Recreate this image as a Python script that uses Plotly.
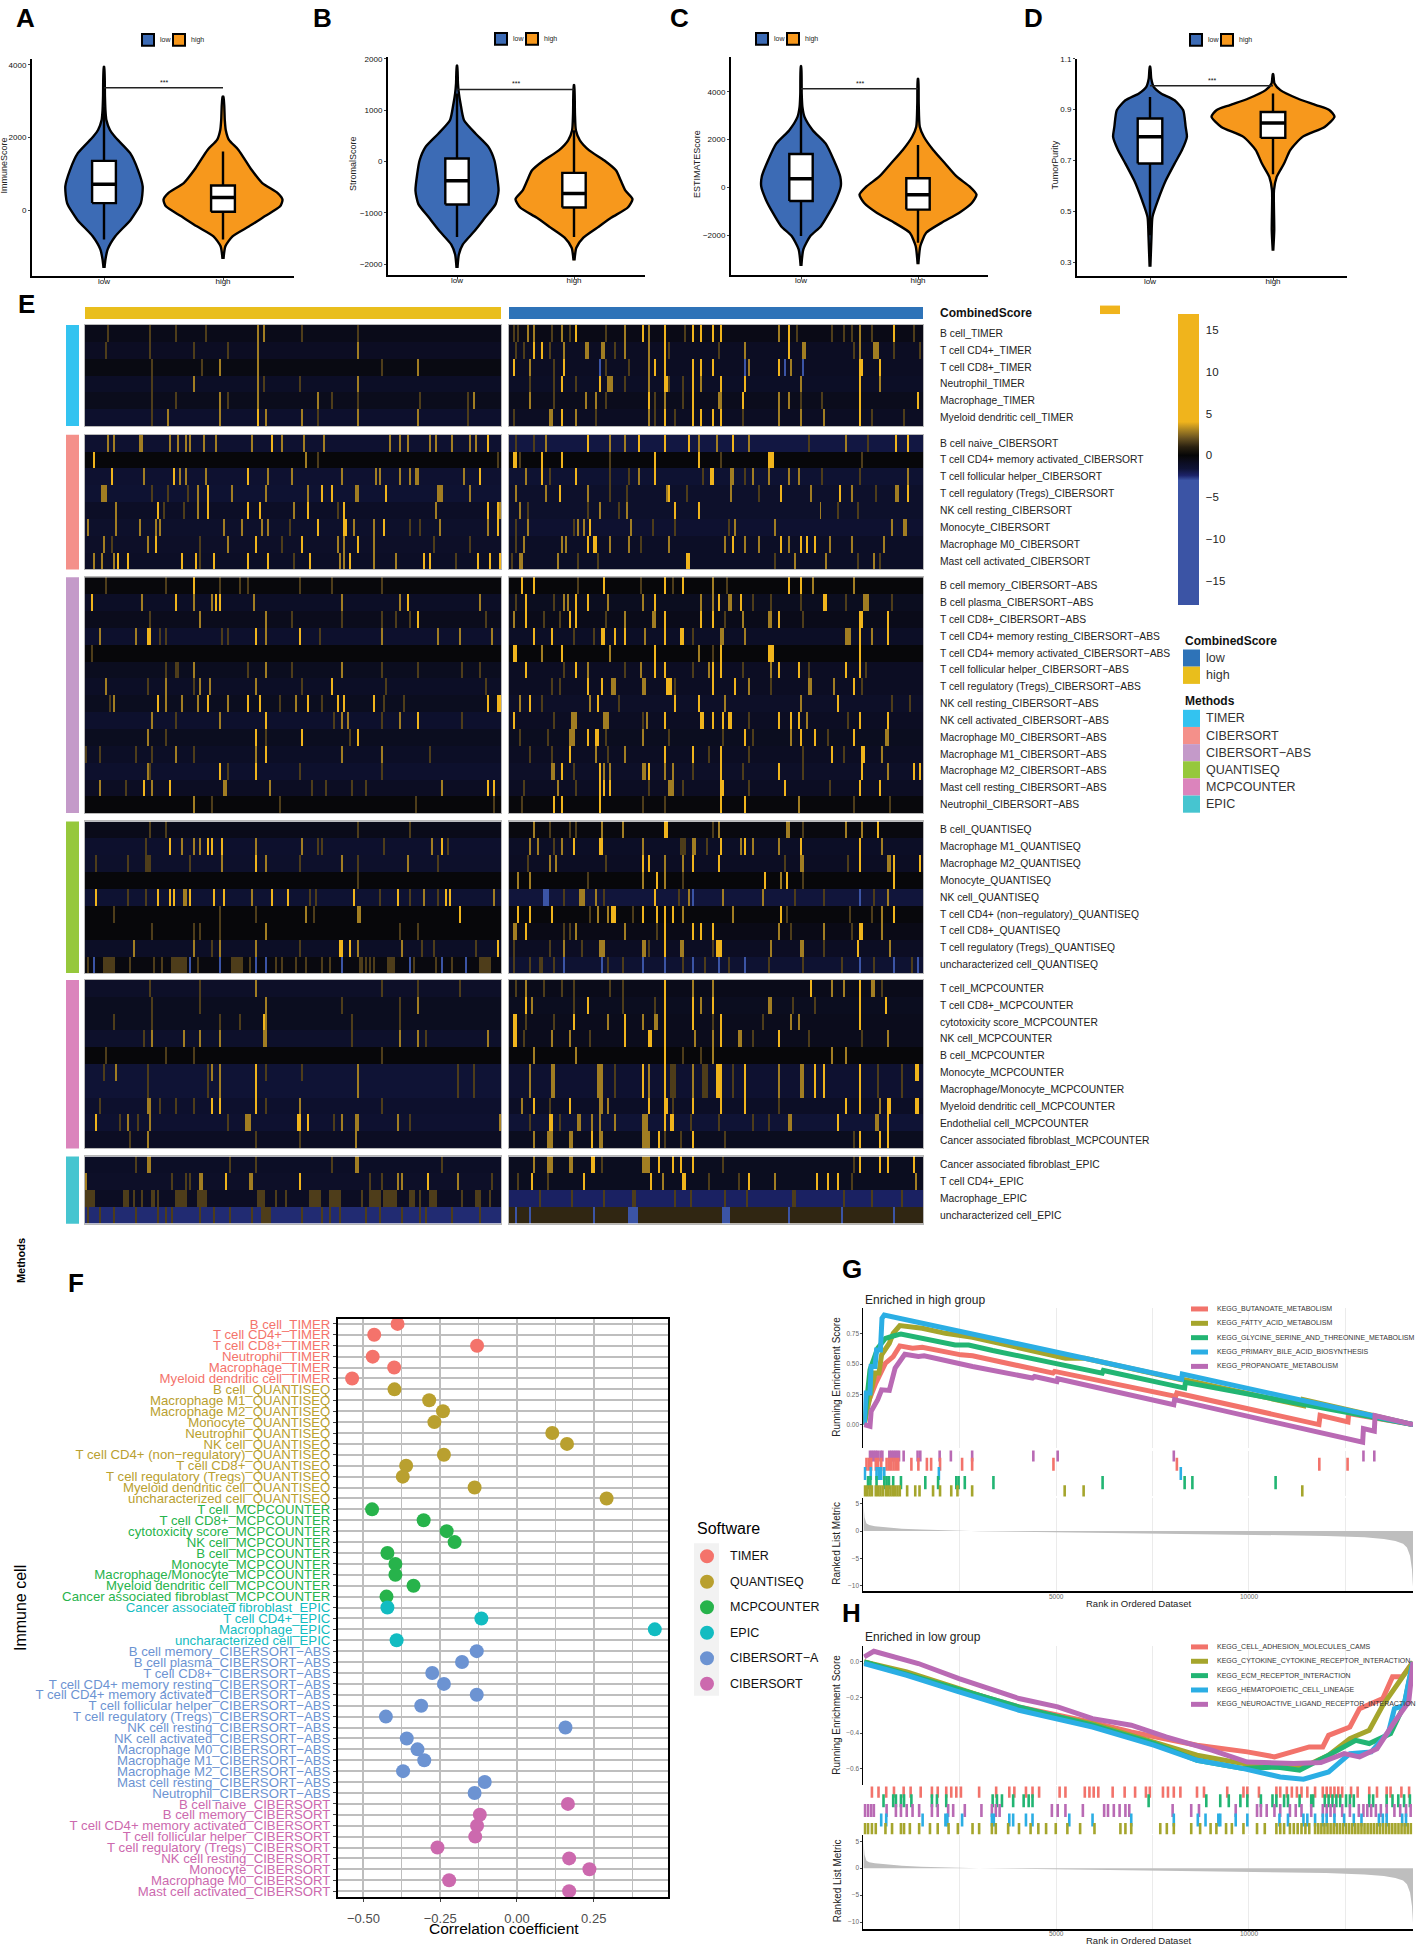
import plotly.graph_objects as go

W, H = 1417, 1945
FONT = "Liberation Sans"

# ---- violins (A-D): y level and half width in category units
A_low_y = [-1580, -1352, -1078, -712, -256, 200, 657, 1114, 1571, 2027, 2210, 2484, 2758, 3123, 3945]
A_low_w = [.004, .012, .03, .095, .225, .31, .325, .285, .22, .09, .05, .02, .012, .008, .002]
A_high_y = [-1333, -986, -712, -438, -164, 110, 292, 475, 749, 1114, 1662, 1936, 2210, 2484, 3123]
A_high_w = [.004, .02, .08, .22, .35, .48, .5, .46, .33, .24, .13, .05, .023, .015, .004]
B_low_y = [-2072, -1810, -1614, -1353, -1092, -830, -569, -242, 20, 281, 542, 804, 1131, 1327, 1523, 1869]
B_low_w = [.004, .016, .05, .15, .24, .33, .355, .34, .32, .27, .16, .06, .03, .016, .008, .002]
B_high_y = [-1928, -1680, -1484, -1288, -1092, -895, -732, -569, -372, -176, 20, 216, 412, 608, 935, 1490]
B_high_w = [.004, .02, .08, .2, .32, .46, .5, .44, .4, .36, .26, .13, .05, .016, .008, .002]
C_low_y = [-3280, -2588, -2034, -1619, -1066, -512, 42, 457, 1149, 1841, 2394, 2948, 3363, 3917, 5065]
C_low_w = [.003, .02, .08, .17, .24, .3, .34, .335, .28, .21, .1, .03, .012, .006, .002]
C_high_y = [-3211, -2450, -1896, -1481, -1066, -650, -304, 42, 457, 1010, 1564, 2118, 2533, 3502, 4540]
C_high_w = [.003, .02, .07, .2, .35, .46, .5, .44, .33, .23, .13, .05, .015, .006, .002]
D_low_y = [.282, .4, .478, .544, .623, .688, .741, .793, .832, .898, .937, .964, .99, 1.023, 1.069]
D_low_w = [.003, .012, .02, .065, .13, .2, .26, .3, .29, .27, .2, .09, .03, .01, .002]
D_high_y = [.345, .426, .583, .636, .688, .741, .793, .832, .872, .898, .918, .944, .977, 1.003, 1.04]
D_high_w = [.002, .01, .008, .03, .09, .14, .24, .42, .5, .46, .35, .2, .06, .012, .002]

# q1, median, q3, lower whisker, upper whisker
A_low_box = [200, 721, 1361, -804, 2850]
A_high_box = [-37, 356, 685, -804, 1616]
B_low_box = [-837, -373, 59, -1470, 1327]
B_high_box = [-895, -621, -222, -1470, 608]
C_low_box = [-567, 360, 1398, -2034, 3778]
C_high_box = [-927, -304, 387, -2311, 1772]
D_low_box = [.688, .793, .865, .406, .95]
D_high_box = [.789, .848, .891, .646, .964]

# ---- heatmap (E): each row = (base, strong columns, medium columns, faint columns[, blue columns])
TIMER_LOW = [
    (-.6, [], [86, 89], [32, 45, 60, 108, 11, 136]),
    (-.9, [], [86, 136], [32, 10, 54, 71]),
    (-.4, [], [67, 86, 166], [33, 58, 148]),
    (-1, [], [136, 54, 86], [89, 33, 107]),
    (-.7, [], [116, 67, 86, 194], [71, 123, 136, 167, 191, 33, 45]),
    (-1.3, [86], [67, 90, 136, 41, 166, 108], [33, 116, 191]),
]
CIBERSORT_LOW = [
    (-1.4, [93, 201], [83, 65, 109, 161, 175, 98, 11, 14, 27, 28, 42, 46, 50, 52, 59, 119, 152, 157, 172, 183, 192, 195], []),
    (-.1, [4], [110], [116, 206]),
    (-1.4, [13, 44, 81, 197], [60, 47, 50, 29, 91, 103, 128, 145, 147, 157, 162, 165, 166, 189], []),
    (-1.5, [61, 118, 123, 150], [8, 9, 10, 56, 136, 135, 176, 177, 178, 192, 73, 111, 90], [33, 41, 51]),
    (-1, [36, 61, 81, 87, 111, 129, 206, 201], [15, 56, 104, 175, 207], [39, 49, 126]),
    (-1.2, [116, 129, 130, 149, 206], [15, 27, 35, 37, 1, 69, 78, 88, 91, 134, 144, 177, 201], [102, 162, 167]),
    (-1.1, [35, 85, 108, 136], [31, 126, 129, 9, 71, 144], [13, 57, 98, 192, 174]),
    (-1, [16, 21, 48, 55, 64, 81, 91, 112, 132, 169, 172, 196, 202, 207], [4, 8, 14, 127, 129, 144, 155], [57, 104, 185]),
]
ABS_LOW = [
    (-.2, [54], [], [10, 40, 67, 77, 81, 107, 123, 148]),
    (-1, [3, 45, 65, 67, 161], [28, 63, 84, 128, 157, 197, 54], []),
    (-.7, [166], [57, 90], [32, 103, 128, 148, 155, 162, 200]),
    (-1.3, [31, 32, 85, 107], [7, 25, 90, 148, 176, 187, 203], [37, 40, 68, 71, 117]),
    (-.1, [], [], [3]),
    (-.8, [], [54, 90, 128], [45, 46, 81, 103, 148, 166, 197, 40, 188]),
    (-1, [123], [10, 85, 57, 62, 40], [31, 54, 108, 200, 150]),
    (-.8, [36, 61, 81, 87, 111, 126, 129, 144, 201, 206, 207], [14, 48, 56, 105, 40, 71], [12, 97, 118, 149, 159]),
    (-1.3, [90, 166], [67, 157, 33, 128, 131], [45, 124, 148, 188]),
    (-.8, [85, 108, 136], [31], [40, 132, 90]),
    (-1, [90], [45, 128, 85, 148], [7, 25, 33, 54, 0, 172]),
    (-1.3, [67, 85], [31], [32, 71, 107, 148]),
    (-.9, [29, 42, 201, 204], [69, 70, 92, 178, 7, 33], [140, 133, 120, 113, 20]),
    (-.1, [], [54], [63, 97, 165, 204]),
]
QUANT_LOW = [
    (-.6, [], [], [40, 32, 136, 162]),
    (-1.3, [42, 61, 63, 68, 178], [173, 48, 54, 57, 85, 108], [30, 116, 118, 149, 181]),
    (-1.2, [85], [90, 68, 128, 161], [30, 31, 32, 52, 5, 21, 107, 136, 176]),
    (-.1, [], [], [136]),
    (-1.5, [5, 36, 42, 44, 52, 64, 69, 93, 101, 134, 156, 180, 182], [49, 50, 204, 169, 83], [21, 30, 112, 115, 176, 147, 162]),
    (-.1, [187], [136, 137, 110], [14, 67, 85, 114]),
    (-.1, [], [90], [33, 57, 54, 67, 166, 157]),
    (-1, [127, 128, 132, 206], [67, 54, 85, 158, 24, 136], [63, 107, 168, 174, 195]),
    (-.3, [], [], [1, 9, 10, 11, 12, 13, 14, 22, 34, 38, 43, 44, 45, 46, 47, 48, 49, 50, 56, 73, 74, 75, 76, 77, 78, 82, 95, 98, 105, 110, 118, 122,
                   137, 138, 140, 142, 144, 151, 152, 153, 154, 164, 175, 183, 197, 198, 199, 200, 201, 202], [4, 52, 67, 85, 90, 128, 162, 178, 190]),
]
MCP_LOW = [
    (-1.1, [], [85], [32, 57, 148, 166, 187]),
    (-.8, [], [90, 166], [57, 33, 157, 128]),
    (-.8, [89], [90], [14, 33, 67, 77, 157, 133]),
    (-1.2, [], [89, 90, 49, 33, 57, 67, 166, 157, 201], [29, 170, 133]),
    (-.1, [], [], [10, 40, 54, 148]),
    (-1.6, [85], [67, 136, 63, 15], [31, 61, 9, 90, 108, 186, 194]),
    (-1.6, [85], [67, 136], [31, 61, 186, 194]),
    (-1.3, [63, 67, 85], [31, 32, 107], [7, 37, 45, 54, 90, 148]),
    (-1.4, [5, 106, 107, 111], [21, 32, 80, 81, 82, 135, 136, 156, 128, 207], [17, 26, 71, 124, 162]),
    (-.9, [], [31, 135], [85, 22, 107]),
]
EPIC_LOW = [
    (-1, [], [31, 32, 135, 136], [72, 123, 25, 178, 85]),
    (-1.1, [107, 171, 70], [0, 82, 83, 57, 58, 156, 158, 186], [50, 52, 43, 203, 142, 148]),
    (-.9, [], [], [0, 1, 2, 3, 4, 19, 20, 21, 24, 28, 33, 34, 36, 45, 46, 47, 48, 49, 50, 56, 57, 58, 59, 60, 86, 87, 88, 89, 95, 100, 112, 113, 114, 115, 116, 117,
                   122, 123, 124, 125, 126, 127, 138, 142, 143, 144, 145, 146, 147, 149, 150, 151, 152, 153, 154, 155, 162, 163, 164, 167, 172, 173, 174, 175, 188, 195, 196, 197, 202]),
    (-2.5, [], [], [1, 7, 14, 25, 36, 40, 43, 57, 64, 72, 83, 88, 89, 90, 91, 92, 108, 118, 122, 127, 140, 147, 158, 167, 170, 183, 197]),
]
TIMER_HIGH = [
    (-.5, [33, 67, 78, 92, 96, 102, 106, 140, 193], [12, 9, 26, 58, 70, 135, 176], [2, 4, 21, 30, 48, 88, 144, 162, 168, 172, 182, 203]),
    (-.9, [78, 12, 16, 140], [38, 39, 46, 47, 147, 148, 183, 184, 185, 58, 118, 176, 27, 70], [3, 7, 20, 53, 80, 105, 193, 173, 206]),
    (-.9, [2, 78, 92, 96, 102, 135, 176, 177, 27, 186, 73], [70, 10, 141, 120], [22, 48, 60], [45, 138, 147, 118]),
    (-1, [78, 79, 26, 45, 106, 118, 176, 92], [49, 50, 51, 146, 70, 96, 186], [22, 58, 80, 87, 10, 33]),
    (-.7, [70, 92, 117, 176, 205], [43, 10, 105, 106, 78, 135, 140, 38], [22, 48, 73, 87, 146, 157]),
    (-.9, [26, 78, 92, 96, 102, 106, 176], [20, 21, 33, 70, 135, 146, 158], [2, 43, 73, 83, 117, 182, 198]),
]
CIBERSORT_HIGH = [
    (-1.8, [39, 65, 78, 90, 112, 194, 200], [18, 50, 95, 104, 58, 120, 169], [3, 12, 150, 180]),
    (-.1, [2, 3, 16, 26, 73, 95, 130, 131, 132], [], [5, 50, 106, 177]),
    (-1.5, [16, 33, 73, 101, 102], [8, 65, 122, 111, 112, 130, 140, 145, 200], [20, 50, 60, 97, 118, 157, 176]),
    (-1.2, [25, 80, 136, 166, 200], [79, 39, 18, 3, 194, 195, 151, 172, 111], [50, 89, 59, 125, 184]),
    (-1.2, [83, 95], [5, 45, 156, 59], [9, 39, 55, 165, 175]),
    (-1.4, [40], [9, 34, 37, 133, 61, 113, 192, 198, 199], [3, 32, 72, 83, 110]),
    (-1, [42, 43, 39, 112, 136, 146, 149, 153], [172, 188, 7, 26, 28, 50, 60, 80, 108, 118, 125, 140, 161], [3, 66]),
    (-1, [89, 90], [5, 6, 24, 143, 159, 183], [1, 34, 44, 133, 175, 186]),
]
ABS_HIGH = [
    (-.1, [6, 12, 47, 78, 87, 140, 146], [152, 102, 173], [34, 66, 82, 109]),
    (-.8, [8, 33, 39, 73, 105, 116, 158, 159], [27, 29, 49, 67, 110, 111, 178, 179, 180, 102, 96], [3, 22, 122, 131, 146, 169, 192]),
    (-.6, [8, 30, 33, 78, 96, 102, 176, 177, 190, 135], [2, 58, 72, 73, 130, 131, 117], [17, 25, 48, 108, 147]),
    (-1, [12, 46, 47, 78, 86, 87, 53, 58, 176, 190, 21], [169, 170, 171, 68, 106, 107, 182, 118], [32, 42, 92]),
    (-.1, [2, 3, 26, 73, 106, 130, 131, 132, 176], [16, 50, 95], [102]),
    (-.9, [8, 33, 73, 78, 102, 135, 145, 169, 176, 106], [66, 131, 100, 39], [27, 58, 92, 117, 150, 179]),
    (-.9, [39, 46, 79, 80, 81, 173, 102, 113], [51, 52, 53, 67, 68, 150, 151, 120, 163], [21, 25, 83, 131, 177]),
    (-1.1, [10, 44, 83, 95, 165], [40, 5, 108, 146], [16, 55, 192, 201]),
    (-.9, [2, 78, 96, 97, 102, 135, 141, 145, 176, 190, 110, 111, 107], [47, 48, 49, 31, 32, 33, 69, 149], [22, 67, 120, 170]),
    (-.8, [39, 43, 44, 146, 153, 173, 118], [30, 31, 32, 67, 141, 189, 190], [5, 19, 48, 80, 107, 122, 160]),
    (-.9, [30, 78, 92, 106, 162, 177, 178], [58, 43, 187], [10, 21, 49, 100, 120, 147, 168]),
    (-1.1, [26, 70, 106, 135, 177, 203, 206, 45], [21, 22, 67, 68, 78, 82, 47, 50, 190], [32, 92, 117, 147]),
    (-.9, [45, 47, 50, 106, 107, 138, 176, 186], [80, 81, 82, 24], [7, 33, 70, 87, 120, 161]),
    (-.2, [22, 26, 45, 106, 118], [145], [6, 67, 78, 173, 191]),
]
QUANT_HIGH = [
    (-.3, [78, 79, 185], [105, 12, 46, 139, 140, 57, 177, 169], [20, 30, 33, 102, 147]),
    (-1, [45, 46, 106, 118, 176, 32, 146], [10, 14, 26, 67, 92, 93, 116, 122, 135, 187], [22, 86, 87, 88, 99]),
    (-.9, [67, 70, 92, 176, 193, 206, 105], [23, 20, 78, 146, 147, 190, 191, 87], [9, 48, 138, 170]),
    (-.1, [74, 128, 139, 193], [10, 4, 67, 136, 78], [39, 87, 147]),
    (-1.7, [73], [43, 35, 36, 37, 90, 190, 127, 107], [27, 47, 85, 143, 158, 183], [17, 18, 19, 176, 92]),
    (-.2, [4, 10, 21, 67, 74, 78, 82, 136, 193, 51, 52, 53], [87, 112, 49, 44, 187], [40, 62, 139, 171, 182]),
    (-.5, [8, 78, 92, 96, 102, 176, 177], [2, 3, 33, 58, 135, 158, 187], [27, 30, 74, 141, 172]),
    (-.9, [78, 104, 105, 106, 175], [45, 46, 47, 27, 67, 68, 86, 87, 146, 147, 131, 191], [2, 20, 36, 70, 102, 158]),
    (-1.5, [], [], [15, 16, 2, 10, 22, 49, 57, 87, 98, 110, 130, 147, 167, 183, 202], [78, 105, 118, 176, 193, 205, 46, 92, 27, 67]),
]
MCP_HIGH = [
    (-.6, [78, 151, 176], [92, 102, 168, 162, 8, 182, 183], [3, 17, 26, 57, 32, 50, 187]),
    (-.8, [78, 92, 102, 39, 176, 8, 189], [130, 131, 96, 11], [32, 57, 73, 142, 153]),
    (-.7, [2, 3, 32, 58, 78, 106, 176, 92], [49, 67, 145, 141, 73, 74], [8, 22, 102, 127]),
    (-.7, [2, 3, 70, 71, 58, 78, 135, 106], [21, 30, 93, 115, 116, 190, 102], [7, 40, 122, 150, 177]),
    (-.1, [78], [12, 33, 102, 162, 169], [87, 96]),
    (-1.4, [67, 78, 104, 105, 106, 118, 153, 158, 176, 204, 205], [44, 45, 46, 10, 21, 22, 70, 92, 135, 146, 147], [53, 81, 82, 83, 97, 98, 99, 112, 185, 197]),
    (-1.4, [67, 78, 104, 105, 106, 118, 153, 158, 176], [44, 45, 46, 10, 21, 22, 70, 92, 135, 146, 147], [53, 81, 82, 83, 97, 98, 99, 112, 185, 197]),
    (-1, [12, 30, 70, 78, 79, 92, 106, 118, 169, 176, 190, 191, 204, 205], [45, 46, 49, 6, 186], [20, 82, 135]),
    (-1.6, [20, 21, 81, 82, 165, 190, 78], [34, 35, 41, 45, 67, 68, 69, 184, 185, 140, 141, 53], [10, 25, 91, 105, 122, 130]),
    (-.8, [41, 75, 92, 176, 186, 190], [19, 20, 21, 30, 31, 67, 68, 69, 70, 12, 45, 46], [78, 86, 173, 108]),
]
EPIC_HIGH = [
    (-.8, [41, 42, 75, 82, 86, 92, 176, 186, 190, 203], [19, 20, 21, 30, 31, 67, 68, 69, 70, 12], [107, 173, 46]),
    (-.8, [11, 37, 71, 87, 88, 120, 154, 160, 165], [77, 133, 204], [4, 19, 100, 115, 172]),
    (-2.3, [], [], [15, 31, 47, 62, 63, 83, 91, 108, 119, 142, 143, 168, 182, 197]),
    (1.1, [], [], [], [3, 10, 42, 60, 61, 62, 63, 64, 107, 108, 109, 110, 140, 167, 193]),
]

METHODS = ["TIMER", "CIBERSORT", "CIBERSORT\u2212ABS", "QUANTISEQ", "MCPCOUNTER", "EPIC"]
METHOD_COLORS = ["#33C3F0", "#F4908A", "#C49AC9", "#96C83C", "#DB84BC", "#46C5D0"]
HEAT_ROWS = [
    ["B cell_TIMER", "T cell CD4+_TIMER", "T cell CD8+_TIMER", "Neutrophil_TIMER", "Macrophage_TIMER", "Myeloid dendritic cell_TIMER"],
    ["B cell naive_CIBERSORT", "T cell CD4+ memory activated_CIBERSORT", "T cell follicular helper_CIBERSORT",
     "T cell regulatory (Tregs)_CIBERSORT", "NK cell resting_CIBERSORT", "Monocyte_CIBERSORT", "Macrophage M0_CIBERSORT",
     "Mast cell activated_CIBERSORT"],
    ["B cell memory_CIBERSORT\u2212ABS", "B cell plasma_CIBERSORT\u2212ABS", "T cell CD8+_CIBERSORT\u2212ABS",
     "T cell CD4+ memory resting_CIBERSORT\u2212ABS", "T cell CD4+ memory activated_CIBERSORT\u2212ABS",
     "T cell follicular helper_CIBERSORT\u2212ABS", "T cell regulatory (Tregs)_CIBERSORT\u2212ABS", "NK cell resting_CIBERSORT\u2212ABS",
     "NK cell activated_CIBERSORT\u2212ABS", "Macrophage M0_CIBERSORT\u2212ABS", "Macrophage M1_CIBERSORT\u2212ABS",
     "Macrophage M2_CIBERSORT\u2212ABS", "Mast cell resting_CIBERSORT\u2212ABS", "Neutrophil_CIBERSORT\u2212ABS"],
    ["B cell_QUANTISEQ", "Macrophage M1_QUANTISEQ", "Macrophage M2_QUANTISEQ", "Monocyte_QUANTISEQ", "NK cell_QUANTISEQ",
     "T cell CD4+ (non\u2212regulatory)_QUANTISEQ", "T cell CD8+_QUANTISEQ", "T cell regulatory (Tregs)_QUANTISEQ",
     "uncharacterized cell_QUANTISEQ"],
    ["T cell_MCPCOUNTER", "T cell CD8+_MCPCOUNTER", "cytotoxicity score_MCPCOUNTER", "NK cell_MCPCOUNTER", "B cell_MCPCOUNTER",
     "Monocyte_MCPCOUNTER", "Macrophage/Monocyte_MCPCOUNTER", "Myeloid dendritic cell_MCPCOUNTER", "Endothelial cell_MCPCOUNTER",
     "Cancer associated fibroblast_MCPCOUNTER"],
    ["Cancer associated fibroblast_EPIC", "T cell CD4+_EPIC", "Macrophage_EPIC", "uncharacterized cell_EPIC"],
]

# ---- dot plot (F)
F_TIMER = ["B cell_TIMER", "T cell CD4+_TIMER", "T cell CD8+_TIMER", "Neutrophil_TIMER", "Macrophage_TIMER", "Myeloid dendritic cell_TIMER"]
F_TIMER_X = [-.389, -.465, -.13, -.47, -.40, -.537]
F_QUANT = ["B cell_QUANTISEQ", "Macrophage M1_QUANTISEQ", "Macrophage M2_QUANTISEQ", "Monocyte_QUANTISEQ", "Neutrophil_QUANTISEQ", "NK cell_QUANTISEQ",
           "T cell CD4+ (non\u2212regulatory)_QUANTISEQ", "T cell CD8+_QUANTISEQ", "T cell regulatory (Tregs)_QUANTISEQ",
           "Myeloid dendritic cell_QUANTISEQ", "uncharacterized cell_QUANTISEQ"]
F_QUANT_X = [-.399, -.286, -.241, -.269, .115, .163, -.238, -.361, -.372, -.138, .292]
F_MCP = ["T cell_MCPCOUNTER", "T cell CD8+_MCPCOUNTER", "cytotoxicity score_MCPCOUNTER", "NK cell_MCPCOUNTER", "B cell_MCPCOUNTER",
         "Monocyte_MCPCOUNTER", "Macrophage/Monocyte_MCPCOUNTER", "Myeloid dendritic cell_MCPCOUNTER", "Cancer associated fibroblast_MCPCOUNTER"]
F_MCP_X = [-.472, -.304, -.229, -.203, -.422, -.396, -.396, -.337, -.425]
F_EPIC = ["Cancer associated fibroblast_EPIC", "T cell CD4+_EPIC", "Macrophage_EPIC", "uncharacterized cell_EPIC"]
F_EPIC_X = [-.422, -.116, .449, -.392]
F_ABS = ["B cell memory_CIBERSORT\u2212ABS", "B cell plasma_CIBERSORT\u2212ABS", "T cell CD8+_CIBERSORT\u2212ABS",
         "T cell CD4+ memory resting_CIBERSORT\u2212ABS", "T cell CD4+ memory activated_CIBERSORT\u2212ABS",
         "T cell follicular helper_CIBERSORT\u2212ABS", "T cell regulatory (Tregs)_CIBERSORT\u2212ABS", "NK cell resting_CIBERSORT\u2212ABS",
         "NK cell activated_CIBERSORT\u2212ABS", "Macrophage M0_CIBERSORT\u2212ABS", "Macrophage M1_CIBERSORT\u2212ABS",
         "Macrophage M2_CIBERSORT\u2212ABS", "Mast cell resting_CIBERSORT\u2212ABS", "Neutrophil_CIBERSORT\u2212ABS"]
F_ABS_X = [-.131, -.179, -.276, -.238, -.131, -.312, -.427, .158, -.359, -.324, -.302, -.371, -.105, -.138]
F_CIB = ["B cell naive_CIBERSORT", "B cell memory_CIBERSORT", "T cell CD4+ memory activated_CIBERSORT", "T cell follicular helper_CIBERSORT",
         "T cell regulatory (Tregs)_CIBERSORT", "NK cell resting_CIBERSORT", "Monocyte_CIBERSORT", "Macrophage M0_CIBERSORT", "Mast cell activated_CIBERSORT"]
F_CIB_X = [.166, -.121, -.13, -.136, -.259, .17, .236, -.221, .17]
SOFTWARE = ["TIMER", "QUANTISEQ", "MCPCOUNTER", "EPIC", "CIBERSORT\u2212A", "CIBERSORT"]
SOFT_COLORS = ["#F4736B", "#B9A02F", "#27B34B", "#12BCC1", "#6C93D2", "#CC69AE"]

# ---- GSEA (G): running enrichment score curves
G_red_x = [20, 120, 321, 572, 773, 944, 1275, 1526, 2530, 2831, 4920, 4960, 8102, 8132, 11817, 11847, 12570, 12590, 14257]
G_red_y = [0, .179, .343, .508, .563, .651, .632, .64, .577, .569, .426, .44, .233, .261, 0, .077, .022, .091, 0]
G_olive_x = [20, 301, 402, 472, 673, 773, 944, 1526, 2128, 2831, 5241, 5743, 8253, 8333, 11415, 11415, 14257]
G_olive_y = [0, .426, .426, .577, .673, .755, .819, .797, .755, .722, .549, .549, .371, .371, .157, .206, 0]
G_green_x = [20, 80, 171, 371, 572, 773, 974, 2379, 2731, 3353, 6195, 6225, 8333, 8353, 8534, 10713, 10763, 14257]
G_green_y = [0, .151, .453, .632, .714, .733, .75, .659, .659, .613, .426, .448, .302, .349, .338, .2, .206, 0]
G_blue_x = [20, 70, 171, 201, 301, 341, 442, 482, 542, 8253, 8273, 13223, 14257]
G_blue_y = [0, .261, .261, .481, .481, .618, .618, .879, .907, .376, .418, .074, 0]
G_purple_x = [20, 171, 201, 371, 472, 673, 823, 1074, 1426, 1576, 2831, 4387, 4438, 5020, 5040, 8052, 8072, 12951, 12971, 13253, 13273, 14257]
G_purple_y = [0, -.014, .11, .206, .288, .283, .467, .582, .563, .569, .481, .385, .398, .357, .379, .165, .206, -.146, -.033, -.055, .074, 0]
G_NAMES = ["KEGG_BUTANOATE_METABOLISM", "KEGG_FATTY_ACID_METABOLISM", "KEGG_GLYCINE_SERINE_AND_THREONINE_METABOLISM",
           "KEGG_PRIMARY_BILE_ACID_BIOSYNTHESIS", "KEGG_PROPANOATE_METABOLISM"]
# gene hits, top rug row first
G_hits_purple = [171, 221, 271, 321, 371, 442, 492, 673, 723, 773, 823, 873, 924, 1044, 1406, 1476, 1978, 2269, 2821, 4408, 5040, 8052, 12972, 13253]
G_hits_red = [80, 141, 201, 321, 382, 462, 602, 663, 723, 783, 843, 904, 1245, 1426, 1647, 1757, 1988, 2560, 2821, 4930, 8132, 11827, 12560]
G_hits_blue = [40, 191, 341, 402, 462, 542, 1958, 8233]
G_hits_green = [120, 181, 341, 542, 602, 663, 773, 974, 1606, 1938, 2410, 2470, 2630, 3373, 6205, 8333, 8534, 10693]
G_hits_olive = [40, 100, 161, 221, 321, 382, 442, 502, 582, 643, 703, 763, 823, 884, 944, 1135, 1345, 1456, 1807, 1988, 2279, 2440, 2821, 5221, 5713, 11385]

# ---- GSEA (H)
H_red_x = [20, 2480, 4036, 5944, 6948, 8655, 9959, 10663, 11064, 11566, 11917, 12068, 12620, 12871, 13474, 13725, 13976, 14257]
H_red_y = [0, -.154, -.253, -.341, -.394, -.469, -.506, -.534, -.51, -.478, -.478, -.413, -.366, -.263, -.206, -.084, -.084, 0]
H_olive_x = [20, 1124, 2480, 4036, 5944, 7550, 8655, 9859, 10813, 11415, 12068, 12620, 13122, 13474, 13875, 14257]
H_olive_y = [0, -.056, -.15, -.2625, -.347, -.45, -.525, -.572, -.594, -.591, -.525, -.431, -.384, -.244, -.113, 0]
H_green_x = [20, 773, 2480, 4036, 5944, 7550, 8655, 9859, 10713, 11315, 12068, 12771, 13122, 13675, 14026, 14257]
H_green_y = [0, -.047, -.159, -.253, -.356, -.459, -.553, -.6, -.591, -.609, -.525, -.441, -.459, -.403, -.244, 0]
H_blue_x = [20, 1124, 2480, 4036, 5944, 7550, 8655, 9859, 10813, 11415, 12068, 12620, 13173, 13624, 13775, 14026, 14126, 14257]
H_blue_y = [-.009, -.075, -.169, -.272, -.366, -.469, -.553, -.6, -.647, -.66, -.619, -.516, -.506, -.394, -.263, -.244, -.131, 0]
H_purple_x = [20, 271, 1426, 2480, 4036, 5040, 5944, 6948, 7851, 9056, 9959, 11165, 11867, 12470, 12871, 13323, 13775, 14026, 14146, 14257]
H_purple_y = [.028, .06, -.009, -.094, -.206, -.253, -.319, -.356, -.422, -.497, -.563, -.572, -.566, -.516, -.534, -.488, -.338, -.263, -.225, 0]
H_NAMES = ["KEGG_CELL_ADHESION_MOLECULES_CAMS", "KEGG_CYTOKINE_CYTOKINE_RECEPTOR_INTERACTION", "KEGG_ECM_RECEPTOR_INTERACTION",
           "KEGG_HEMATOPOIETIC_CELL_LINEAGE", "KEGG_NEUROACTIVE_LIGAND_RECEPTOR_INTERACTION"]
H_hits_red = [221, 392, 592, 793, 1044, 1225, 1486, 1777, 1928, 2149, 2279, 2410, 2530, 3002, 3444, 3785, 3916, 4217, 4387, 4558, 5090, 5241, 5743, 5863, 5974, 6094,
              6466, 6777, 7048, 7329, 7430, 7771, 7901, 8052, 8223, 8654, 8835, 9438, 9859, 9960, 10261, 10713, 10813, 10984, 11114, 11245, 11365, 11516, 11717,
              11917, 12018, 12118, 12219, 12319, 12420, 12650, 12821, 13122, 13323, 13574, 13675, 13956, 14156]
H_hits_green = [522, 773, 843, 974, 1054, 1245, 1777, 1908, 2149, 3353, 3464, 3594, 3885, 4157, 4287, 4387, 7399, 8895, 9257, 9478, 9779, 9960, 10311, 10612, 10713,
                10913, 11014, 11315, 11617, 11667, 11968, 12068, 12168, 12269, 12369, 12520, 12620, 12721, 13122, 13223, 13574, 13725, 13875, 14026, 14176]
H_hits_purple = [40, 120, 201, 271, 602, 843, 974, 1124, 1275, 1446, 1777, 1928, 2199, 2329, 2630, 3062, 3333, 3434, 3534, 4889, 5040, 5241, 5693, 6245, 6345, 6496,
                 6646, 6797, 6897, 8022, 8504, 8705, 9658, 10211, 10311, 10462, 10663, 10813, 11064, 11215, 11365, 11617, 11917, 12018, 12118, 12219, 12420, 12620,
                 12851, 12971, 13072, 13172, 13293, 13423, 13574, 13775, 13925, 14076, 14196]
H_hits_blue = [462, 592, 1536, 2128, 2179, 2560, 3333, 3383, 3785, 3885, 4217, 4387, 5341, 5944, 6948, 8052, 8675, 8875, 9207, 9257, 9658, 9960, 10793, 11014, 11415,
               11516, 11717, 11917, 12018, 12219, 12470, 12721, 12921, 13373, 13474, 13574, 13976, 14076]
H_hits_olive = [40, 120, 221, 321, 572, 743, 974, 1054, 1205, 1446, 1727, 1928, 2209, 2450, 2831, 3002, 3333, 3434, 3755, 4036, 4337, 4538, 4739, 4990, 5291, 5622, 5994,
                6667, 6797, 6948, 7701, 7871, 8052, 8504, 8735, 9006, 9157, 9408, 9558, 9859, 10211, 10412, 10713, 10813, 10913, 11064, 11165, 11265, 11365, 11466, 11566,
                11717, 11800, 11880, 11960, 12040, 12120, 12200, 12280, 12360, 12440, 12520, 12600, 12680, 12760, 12840, 12920, 13000, 13080, 13160, 13240, 13320, 13400,
                13480, 13560, 13640, 13720, 13800, 13880, 13960, 14040, 14120, 14200]

# ranked list metric, read from the grey area
metric_rank = [0, 30, 80, 150, 300, 600, 1000, 1500, 2000, 2500, 3000, 4000, 5000, 6000, 7500, 9000, 10000, 11000, 12000, 13000, 13500, 13800, 14000, 14100, 14180, 14230, 14257]
metric_val = [5, 2.5, 1.4, 1.1, .9, .65, .45, .28, .15, .05, -.02, -.1, -.2, -.27, -.38, -.5, -.6, -.72, -.88, -1.15, -1.45, -1.8, -2.3, -3, -4.5, -7, -10.2]

GSEA_RED, GSEA_OLIVE, GSEA_GREEN, GSEA_BLUE, GSEA_PURPLE = "#F2736B", "#A5A52C", "#22B573", "#2BAEE4", "#B96AB4"
LOW_BLUE, HIGH_ORANGE = "#3C6BB5", "#F7981C"

fig = go.Figure()
axes = {}
shapes = []
notes = []
axis_n = 1


def new_axes(x0, x1, y0, y1, xkw=None, ykw=None):
    # one x/y pair placed by pixel box
    global axis_n
    axis_n += 1
    xa, ya = f"x{axis_n}", f"y{axis_n}"
    base = dict(showgrid=False, zeroline=False, showticklabels=False, ticks="")
    axes[f"xaxis{axis_n}"] = {**base, "domain": [x0 / W, x1 / W], "anchor": ya, **(xkw or {})}
    axes[f"yaxis{axis_n}"] = {**base, "domain": [1 - y1 / H, 1 - y0 / H], "anchor": xa, **(ykw or {})}
    return xa, ya


def text(x, y, s, size, color="#000000", bold=False, anchor="left", angle=0):
    notes.append(dict(x=x / W, y=1 - y / H, xref="paper", yref="paper", text=f"<b>{s}</b>" if bold else s, showarrow=False,
                      xanchor=anchor, yanchor="middle", textangle=angle, font=dict(family=FONT, size=size, color=color)))


def box(x0, y0, x1, y1, fill, line=None, width=0, kind="rect"):
    shapes.append(dict(type=kind, xref="paper", yref="paper", x0=x0 / W, x1=x1 / W, y0=1 - y0 / H, y1=1 - y1 / H, fillcolor=fill,
                       line=dict(color=line or fill, width=width)))


# ---- A-D
def violin_panel(letter, letter_x, xbox, ybox, cats_px, tick_px, ticks, title, title_x, violins, sig, legend):
    x0, x1 = xbox
    y0, y1 = ybox
    unit = cats_px[1] - cats_px[0]
    v0, p0, v1, p1 = tick_px
    per_px = (v1 - v0) / (p1 - p0)
    yr = [v0 + (y1 - p0) * per_px, v0 + (y0 - p0) * per_px]
    line = dict(showline=True, linecolor="#000000", linewidth=2, ticks="outside", ticklen=2, tickwidth=1, showticklabels=True,
                tickfont=dict(family=FONT, size=8, color="#111111"))
    xa, ya = new_axes(x0, x1, y0, y1,
                      {**line, "range": [(x0 - cats_px[0]) / unit, (x1 - cats_px[0]) / unit], "tickvals": [0, 1], "ticktext": ["low", "high"], "ticklabelstandoff": -6},
                      {**line, "range": yr, "tickvals": ticks, "ticktext": [str(t).replace("-", "\u2212") for t in ticks]})
    for i, (ys, ws, stats, color) in enumerate(violins):
        xs = [i + w for w in ws] + [i - w for w in reversed(ws)]
        fig.add_trace(go.Scatter(x=xs, y=list(ys) + list(reversed(ys)), fill="toself", fillcolor=color, mode="lines",
                                 line=dict(color="#000000", width=2.4, shape="spline", smoothing=0.6), xaxis=xa, yaxis=ya))
        q1, med, q3, lo, hi = stats
        fig.add_trace(go.Scatter(x=[i, i], y=[lo, hi], mode="lines", line=dict(color="#000000", width=2.4), xaxis=xa, yaxis=ya))
        fig.add_trace(go.Scatter(x=[i - .1, i + .1, i + .1, i - .1, i - .1], y=[q1, q1, q3, q3, q1], mode="lines", fill="toself", fillcolor="#FFFFFF",
                                 line=dict(color="#000000", width=2.4), xaxis=xa, yaxis=ya))
        fig.add_trace(go.Scatter(x=[i - .1, i + .1], y=[med, med], mode="lines", line=dict(color="#000000", width=3.5), xaxis=xa, yaxis=ya))
    sig_y, star_x = sig
    fig.add_trace(go.Scatter(x=[0, 1], y=[sig_y, sig_y], mode="lines", line=dict(color="#222222", width=1.5), xaxis=xa, yaxis=ya))
    notes.append(dict(x=star_x, y=sig_y, xref=xa, yref=ya, text="***", showarrow=False, yanchor="bottom", font=dict(family=FONT, size=7, color="#111111")))
    text(letter_x, 14, letter, 26, bold=True)
    text(title_x, (y0 + y1) / 2 - 2, title, 9, "#222222", anchor="center", angle=-90)
    lx, ly = legend
    box(lx, ly - 6, lx + 12, ly + 6, LOW_BLUE, "#000000", 2)
    text(lx + 16, ly, "low", 7, "#222222")
    box(lx + 31, ly - 6, lx + 43, ly + 6, HIGH_ORANGE, "#000000", 2)
    text(lx + 47, ly, "high", 7, "#222222")


violin_panel("A", 14, (32, 294), (55, 273), (104, 223), (0, 207, 4000, 61), [0, 2000, 4000], "ImmuneScore", 4,
             [(A_low_y, A_low_w, A_low_box, LOW_BLUE), (A_high_y, A_high_w, A_high_box, HIGH_ORANGE)], (3370, .5), (142, 36))
violin_panel("B", 311, (388, 645), (53, 272), (457, 574), (0, 158, 2000, 55), [-2000, -1000, 0, 1000, 2000], "StromalScore", 353,
             [(B_low_y, B_low_w, B_low_box, LOW_BLUE), (B_high_y, B_high_w, B_high_box, HIGH_ORANGE)], (1405, .5), (495, 35))
violin_panel("C", 668, (731, 988), (53, 272), (801, 918), (0, 184, 4000, 88), [-2000, 0, 2000, 4000], "ESTIMATEScore", 697,
             [(C_low_y, C_low_w, C_low_box, LOW_BLUE), (C_high_y, C_high_w, C_high_box, HIGH_ORANGE)], (4124, .5), (756, 35))
violin_panel("D", 1022, (1077, 1347), (55, 273), (1150, 1273), (.3, 259, 1.1, 55), [.3, .5, .7, .9, 1.1], "TumorPurity", 1055,
             [(D_low_y, D_low_w, D_low_box, LOW_BLUE), (D_high_y, D_high_w, D_high_box, HIGH_ORANGE)], (.994, .5), (1190, 36))

# ---- E
ZMIN, ZMAX = -17.9, 16.9
NCOL = 208
GROUP_TOPS = [322, 432, 575, 820, 979, 1156]
ROW_H = 16.9
STRONG, MEDIUM, FAINT, BLUE = 5.0, 2.9, 1.6, -4.0


def cs(v, c):
    return [(v - ZMIN) / (ZMAX - ZMIN), c]


COLORSCALE = [cs(ZMIN, "#3B54A5"), cs(-3, "#3B54A5"), cs(-2.4, "#1C2368"), cs(-1.6, "#0F1335"), cs(-1, "#0C0E26"), cs(-.3, "#09090F"), cs(0, "#060607"),
              cs(1, "#2A2110"), cs(2, "#665020"), cs(3, "#A88222"), cs(4, "#F0B41C"), cs(ZMAX, "#F0B41C")]


def row_values(row):
    base, strong, medium, faint = row[:4]
    vals = [base] * NCOL
    for cols, v in ((faint, FAINT), (medium, MEDIUM), (strong, STRONG)):
        for c in cols:
            vals[c] = v
    if len(row) > 4:
        for c in row[4]:
            vals[c] = BLUE
    return vals


LOW_ROWS = [TIMER_LOW, CIBERSORT_LOW, ABS_LOW, QUANT_LOW, MCP_LOW, EPIC_LOW]
HIGH_ROWS = [TIMER_HIGH, CIBERSORT_HIGH, ABS_HIGH, QUANT_HIGH, MCP_HIGH, EPIC_HIGH]
edge = dict(showline=True, linecolor="#B8B8B8", linewidth=1, mirror=True)
for g, top in enumerate(GROUP_TOPS):
    bottom = top + ROW_H * len(HEAT_ROWS[g])
    for (x0, x1), rows in (((85, 501), LOW_ROWS[g]), ((509, 923), HIGH_ROWS[g])):
        xa, ya = new_axes(x0, x1, top, bottom, {**edge, "range": [-.5, NCOL - .5]}, {**edge, "range": [len(rows) - .5, -.5]})
        fig.add_trace(go.Heatmap(z=[row_values(r) for r in rows], coloraxis="coloraxis", xaxis=xa, yaxis=ya, hoverinfo="skip"))
    box(66, top, 79, bottom, METHOD_COLORS[g])
    for i, name in enumerate(HEAT_ROWS[g]):
        text(938, top + ROW_H * (i + .5), name, 10.3, "#222222")

box(85, 304, 501, 316, "#E9BE1C")
box(509, 304, 923, 316, "#2E73B8")
box(1100, 302.5, 1120, 311, "#F0B41C")
text(938, 310, "CombinedScore", 12, "#111111", bold=True)
text(16, 301, "E", 26, bold=True)
text(21, 1261, "Methods", 11, bold=True, anchor="center", angle=-90)

text(1183, 639, "CombinedScore", 12, "#111111", bold=True)
box(1183, 647.5, 1200, 664.7, "#2E73B8")
box(1183, 664.7, 1200, 682, "#E9BE1C")
text(1204, 656, "low", 12.5, "#333333")
text(1204, 673, "high", 12.5, "#333333")
text(1183, 699, "Methods", 12, "#111111", bold=True)
for i, (name, color) in enumerate(zip(METHODS, METHOD_COLORS)):
    box(1183, 708 + i * 17.2, 1200, 708 + (i + 1) * 17.2, color)
    text(1204, 708 + (i + .5) * 17.2, name, 12.5, "#333333")

# ---- F
f_names = F_TIMER + F_QUANT + F_MCP + F_EPIC + F_ABS + F_CIB
f_vals = F_TIMER_X + F_QUANT_X + F_MCP_X + F_EPIC_X + F_ABS_X + F_CIB_X
f_groups = [F_TIMER, F_QUANT, F_MCP, F_EPIC, F_ABS, F_CIB]
f_colors = [c for grp, c in zip(f_groups, SOFT_COLORS) for _ in grp]
fx, fy = new_axes(338, 668, 1319, 1899,
                  dict(range=[-.583, .492], tickvals=[-.5, -.25, 0, .25], ticktext=["\u22120.50", "\u22120.25", "0.00", "0.25"], showticklabels=True,
                       showgrid=True, gridcolor="#BEBEBE", gridwidth=1.5, minor=dict(tickvals=[-.375, -.125, .125, .375], showgrid=True, gridcolor="#BEBEBE", gridwidth=1),
                       showline=True, mirror=True, linecolor="#000000", linewidth=2, ticks="outside", ticklen=3, ticklabelstandoff=5,
                       tickfont=dict(family=FONT, size=13, color="#4D4D4D")),
                  dict(range=[52.55, -.457], tickvals=list(range(len(f_names))),
                       ticktext=[f'<span style="color:{c}">{n}</span>' for n, c in zip(f_names, f_colors)], showticklabels=True,
                       showgrid=True, gridcolor="#BEBEBE", gridwidth=2, showline=True, mirror=True, linecolor="#000000", linewidth=2,
                       ticks="outside", ticklen=3, tickfont=dict(family=FONT, size=13.2)))
fig.add_trace(go.Scatter(x=f_vals, y=list(range(len(f_names))), mode="markers", marker=dict(size=14, color=f_colors), xaxis=fx, yaxis=fy, cliponaxis=False))
text(66, 1283, "F", 26, bold=True)
text(504, 1930, "Correlation coefficient", 15.5, anchor="center")
text(20, 1609, "Immune cell", 16, anchor="center", angle=-90)
text(695, 1529, "Software", 16)
box(694, 1544, 719, 1697, "#F2F2F2")
for i, (name, color) in enumerate(zip(SOFTWARE, SOFT_COLORS)):
    cy = 1557 + i * 25.6
    box(700, cy - 7, 714, cy + 7, color, kind="circle")
    text(728, cy, name, 12.5, "#111111")


# ---- G / H
def gsea_panel(letter, letter_y, title, title_y, top_box, top_range, top_ticks, curves, names, legend_y, rug_box, rug_rows, bot_box, bot_range, xlabel_y, xtitle_y):
    x0, x1 = 863.4, 1413
    rank_max = 14257
    grid = dict(range=[0, rank_max], tickvals=[2500, 5000, 7500, 10000, 12500], showgrid=True, gridcolor="#EBEBEB", gridwidth=1)
    small = dict(family=FONT, size=6.5, color="#666666")
    xa, ya = new_axes(x0, x1, top_box[0], top_box[1], grid,
                      dict(range=top_range, tickvals=top_ticks, ticktext=[f"{t:.2f}".replace("-", "\u2212") if top_ticks[-1] > .5 else f"{t:.1f}".replace("-", "\u2212") for t in top_ticks],
                           showticklabels=True, showline=True, linecolor="#000000", linewidth=1, tickfont=small, ticks="outside", ticklen=2))
    for xs, ys, color in curves:
        fig.add_trace(go.Scatter(x=xs, y=ys, mode="lines", line=dict(color=color, width=5), xaxis=xa, yaxis=ya))
    xa, ya = new_axes(x0, x1, rug_box[0], rug_box[1], grid, dict(range=[4.5, -.5]))
    for r, (hits, color) in enumerate(rug_rows):
        fig.add_trace(go.Scatter(x=hits, y=[r] * len(hits), mode="markers", xaxis=xa, yaxis=ya,
                                 marker=dict(symbol="line-ns", size=9.3, line=dict(color=color, width=2.6))))
    xa, ya = new_axes(x0, x1, bot_box[0], bot_box[1],
                      {**grid, "showline": True, "linecolor": "#000000", "linewidth": 2},
                      dict(range=bot_range, tickvals=[-10, -5, 0, 5], ticktext=["\u221210", "\u22125", "0", "5"], showticklabels=True,
                           showline=True, linecolor="#000000", linewidth=1, tickfont=small, ticks="outside", ticklen=2))
    fig.add_trace(go.Scatter(x=metric_rank, y=metric_val, mode="lines", fill="tozeroy", fillcolor="#BEBEBE", line=dict(width=0), xaxis=xa, yaxis=ya))
    for t, rank in (("5000", 5000), ("10000", 10000)):
        text(x0 + rank / rank_max * (x1 - x0), xlabel_y, t, 6.5, "#666666", anchor="center")
    text(1138, xtitle_y, "Rank in Ordered Dataset", 9.5, "#222222", anchor="center")
    text(863, title_y, title, 12, "#222222")
    text(840, letter_y, letter, 26, bold=True)
    text(837, (top_box[0] + top_box[1]) / 2 - 1, "Running Enrichment Score", 10, "#222222", anchor="center", angle=-90)
    text(837, (bot_box[0] + bot_box[1]) / 2 - 1, "Ranked List Metric", 10, "#222222", anchor="center", angle=-90)
    for i, (name, (_, _, color)) in enumerate(zip(names, curves)):
        ly = legend_y + i * 14.4
        box(1191, ly - 2.5, 1208, ly + 2.5, color)
        text(1214.6, ly, name, 7, "#333333")


gsea_panel("G", 1269, "Enriched in high group", 1300, (1308, 1448), [-.19, .965], [0, .25, .5, .75],
           [(G_red_x, G_red_y, GSEA_RED), (G_olive_x, G_olive_y, GSEA_OLIVE), (G_green_x, G_green_y, GSEA_GREEN),
            (G_blue_x, G_blue_y, GSEA_BLUE), (G_purple_x, G_purple_y, GSEA_PURPLE)], G_NAMES, 1309, (1451, 1497),
           [(G_hits_purple, GSEA_PURPLE), (G_hits_red, GSEA_RED), (G_hits_blue, GSEA_BLUE), (G_hits_green, GSEA_GREEN), (G_hits_olive, GSEA_OLIVE)],
           (1499, 1592), [-11, 6], 1597, 1604)
gsea_panel("H", 1614, "Enriched in low group", 1638, (1647, 1787), [-.695, .09], [-.6, -.4, -.2, 0],
           [(H_red_x, H_red_y, GSEA_RED), (H_olive_x, H_olive_y, GSEA_OLIVE), (H_green_x, H_green_y, GSEA_GREEN),
            (H_blue_x, H_blue_y, GSEA_BLUE), (H_purple_x, H_purple_y, GSEA_PURPLE)], H_NAMES, 1648, (1788, 1836),
           [(H_hits_red, GSEA_RED), (H_hits_green, GSEA_GREEN), (H_hits_purple, GSEA_PURPLE), (H_hits_blue, GSEA_BLUE), (H_hits_olive, GSEA_OLIVE)],
           (1837, 1931), [-11.3, 6.1], 1935, 1942)

fig.update_layout(
    width=W, height=H, margin=dict(l=0, r=0, t=0, b=0), autosize=False, showlegend=False,
    paper_bgcolor="#FFFFFF", plot_bgcolor="#FFFFFF", font=dict(family=FONT),
    shapes=shapes, annotations=notes,
    coloraxis=dict(cmin=ZMIN, cmax=ZMAX, colorscale=COLORSCALE,
                   colorbar=dict(thickness=21, thicknessmode="pixels", len=291, lenmode="pixels", x=1178 / W, xanchor="left",
                                 y=1 - 311 / H, yanchor="top", xpad=0, ypad=0, outlinewidth=0, ticks="outside", ticklen=5, tickcolor="rgba(0,0,0,0)",
                                 tickvals=[-15, -10, -5, 0, 5, 10, 15], ticktext=["\u221215", "\u221210", "\u22125", "0", "5", "10", "15"],
                                 tickfont=dict(family=FONT, size=11.5, color="#222222"))),
    **axes,
)
fig.write_html("out.html", config={"displayModeBar": False}, post_script="document.body.style.margin='0';")
